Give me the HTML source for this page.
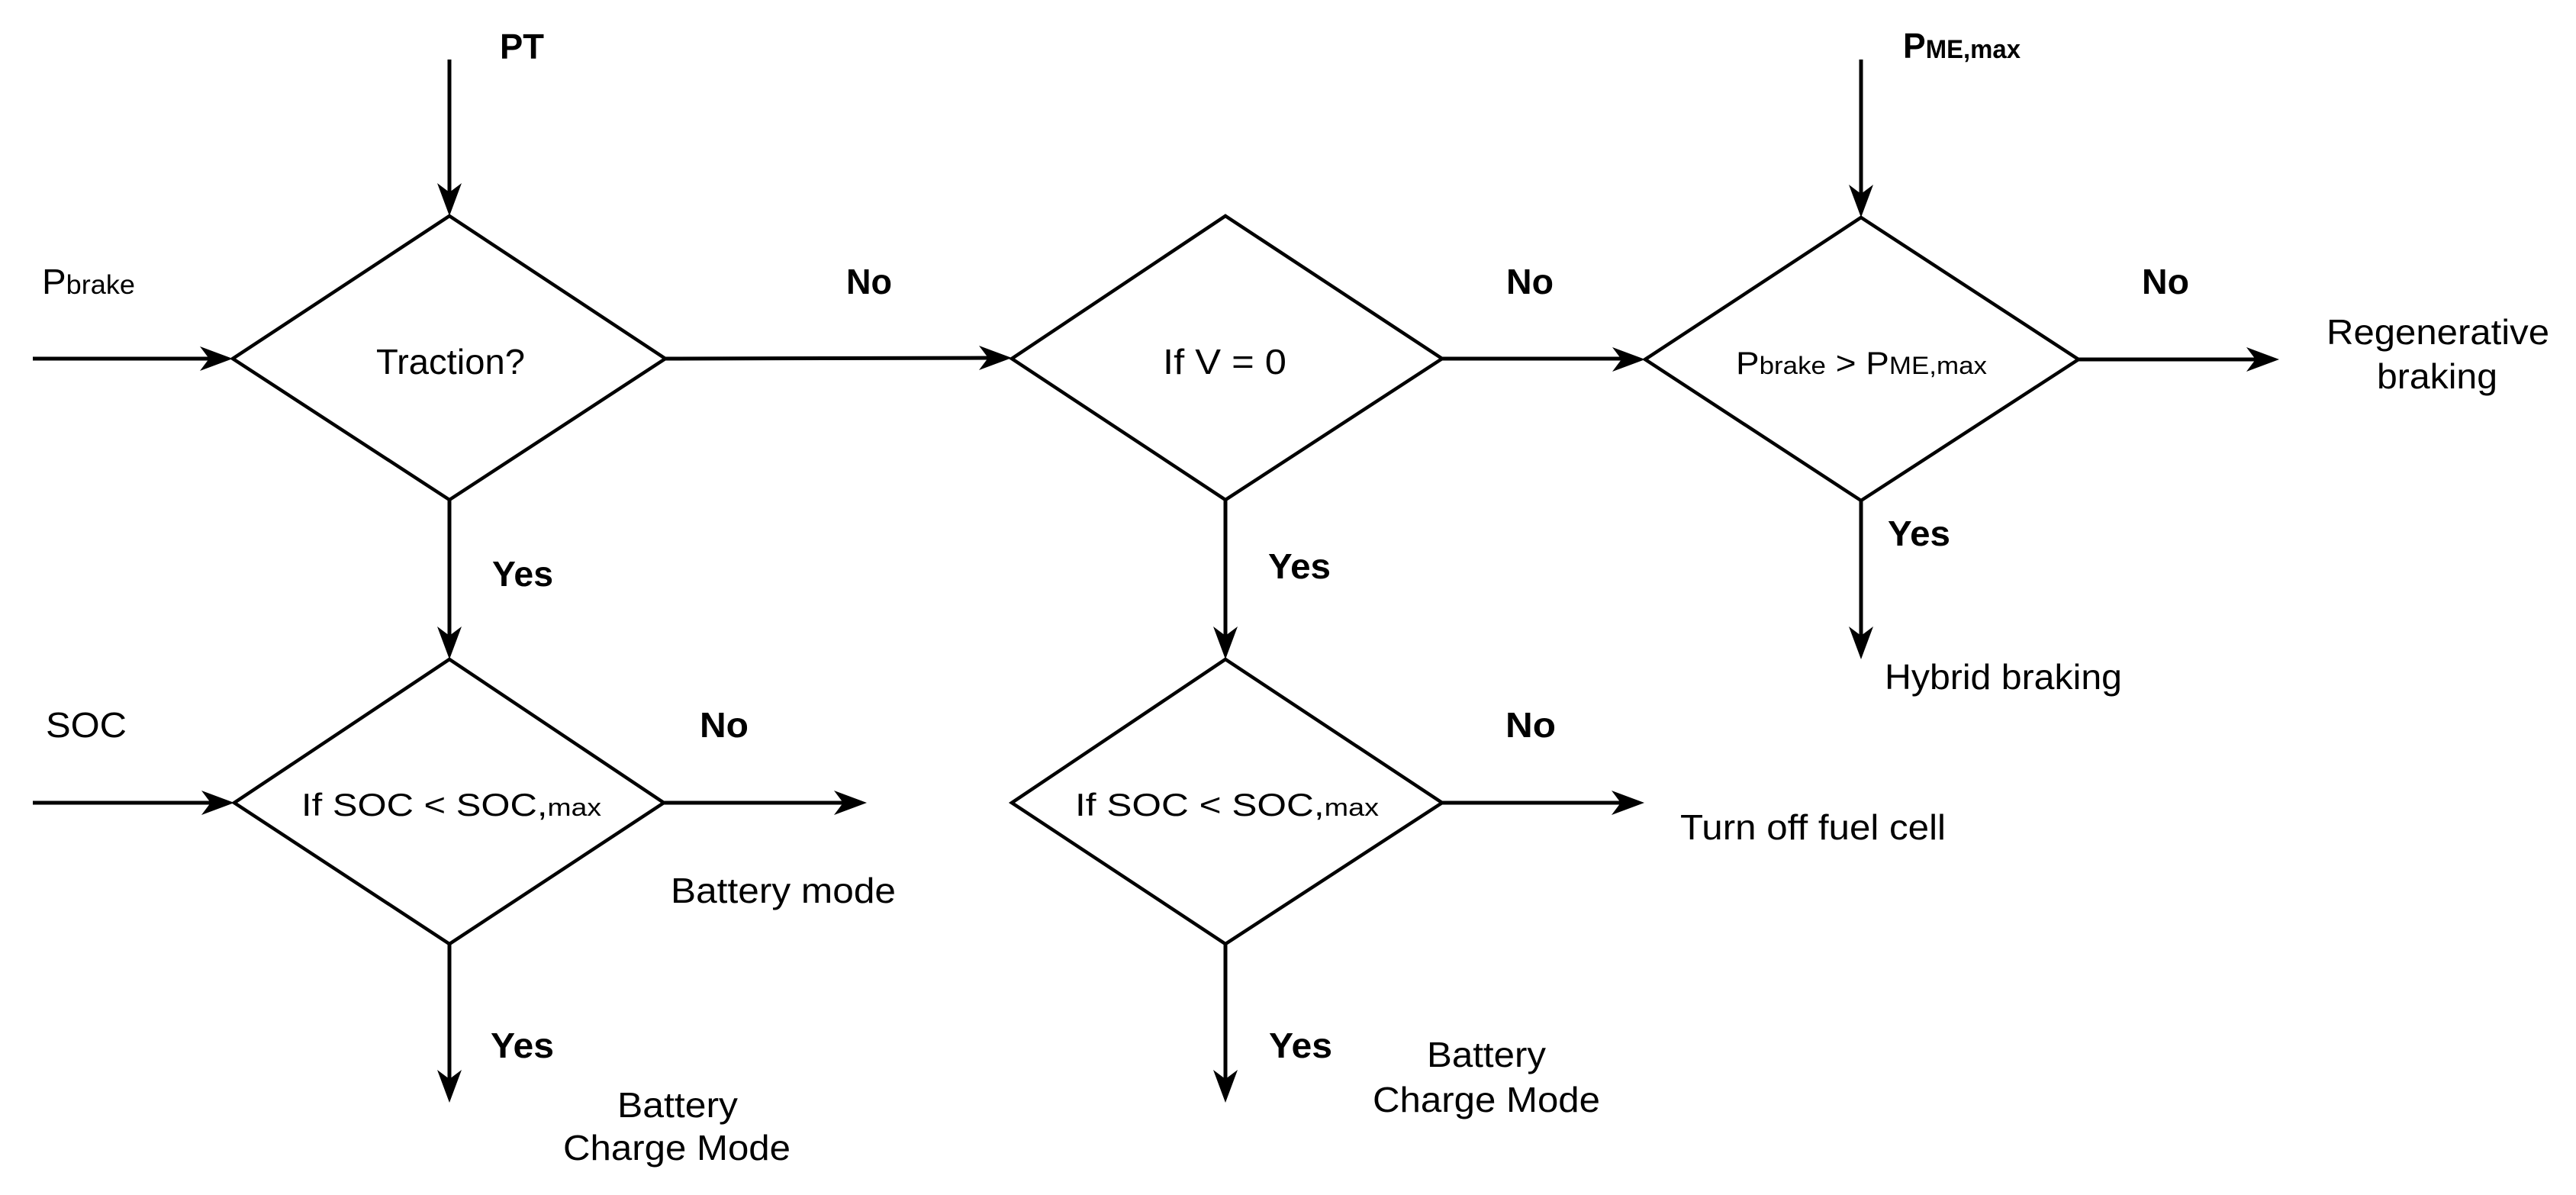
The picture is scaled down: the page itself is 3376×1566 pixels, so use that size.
<!DOCTYPE html>
<html><head><meta charset="utf-8"><style>html,body{margin:0;padding:0;background:#fff}svg{display:block}</style></head>
<body>
<svg width="3376" height="1566" viewBox="0 0 3376 1566" xmlns="http://www.w3.org/2000/svg" font-family="'Liberation Sans', Arial, sans-serif" fill="#000">
<g stroke="#000" stroke-width="5" fill="none">
<polygon points="589,283 872,470 589,655 305,470" stroke-width="4.5"/>
<polygon points="1606,283 1890,470 1606,655 1326,470" stroke-width="4.5"/>
<polygon points="2439,285 2724,471 2439,656 2156,471" stroke-width="4.5"/>
<polygon points="589,864 870,1052 589,1237 307,1052" stroke-width="4.5"/>
<polygon points="1606,864 1890,1052 1606,1237 1326,1052" stroke-width="4.5"/>
<line x1="589" y1="78" x2="589" y2="255"/>
<line x1="43" y1="470" x2="277" y2="470"/>
<line x1="872" y1="470" x2="1298" y2="469"/>
<line x1="589" y1="655" x2="589" y2="836"/>
<line x1="1890" y1="470" x2="2128" y2="470"/>
<line x1="1606" y1="655" x2="1606" y2="836"/>
<line x1="2439" y1="78" x2="2439" y2="257"/>
<line x1="2724" y1="471" x2="2959" y2="471"/>
<line x1="2439" y1="656" x2="2439" y2="836"/>
<line x1="43" y1="1052" x2="279" y2="1052"/>
<line x1="870" y1="1052" x2="1108" y2="1052"/>
<line x1="589" y1="1237" x2="589" y2="1417"/>
<line x1="1890" y1="1052" x2="2127" y2="1052"/>
<line x1="1606" y1="1237" x2="1606" y2="1417"/>
</g>
<g stroke="none" fill="#000">
<path d="M589,283 L573,240 L589,252 L605,240 Z"/>
<path d="M589,864 L573,821 L589,833 L605,821 Z"/>
<path d="M1606,864 L1590,821 L1606,833 L1622,821 Z"/>
<path d="M2439,285 L2423,242 L2439,254 L2455,242 Z"/>
<path d="M2439,864 L2423,821 L2439,833 L2455,821 Z"/>
<path d="M589,1445 L573,1402 L589,1414 L605,1402 Z"/>
<path d="M1606,1445 L1590,1402 L1606,1414 L1622,1402 Z"/>
<path d="M305,470 L262,454 L274,470 L262,486 Z"/>
<path d="M1326,469 L1283,453 L1295,469 L1283,485 Z"/>
<path d="M2156,471 L2113,455 L2125,471 L2113,487 Z"/>
<path d="M2987,471 L2944,455 L2956,471 L2944,487 Z"/>
<path d="M307,1052 L264,1036 L276,1052 L264,1068 Z"/>
<path d="M1136,1052 L1093,1036 L1105,1052 L1093,1068 Z"/>
<path d="M2155,1052 L2112,1036 L2124,1052 L2112,1068 Z"/>
</g>
<g font-size="46">
<text x="655" y="77" font-weight="bold" textLength="58" lengthAdjust="spacingAndGlyphs">PT</text>
<text x="55" y="385" textLength="122" lengthAdjust="spacingAndGlyphs">P<tspan font-size="35">brake</tspan></text>
<text x="493" y="490" textLength="195" lengthAdjust="spacingAndGlyphs">Traction?</text>
<text x="1109" y="385" font-weight="bold" textLength="60" lengthAdjust="spacingAndGlyphs">No</text>
<text x="1974" y="385" font-weight="bold" textLength="62" lengthAdjust="spacingAndGlyphs">No</text>
<text x="2807" y="385" font-weight="bold" textLength="62" lengthAdjust="spacingAndGlyphs">No</text>
<text x="645" y="768" font-weight="bold" textLength="80" lengthAdjust="spacingAndGlyphs">Yes</text>
<text x="1662" y="758" font-weight="bold" textLength="82" lengthAdjust="spacingAndGlyphs">Yes</text>
<text x="2474" y="715" font-weight="bold" textLength="82" lengthAdjust="spacingAndGlyphs">Yes</text>
<text x="1524" y="490" textLength="162" lengthAdjust="spacingAndGlyphs">If V = 0</text>
<text x="2494" y="76" font-weight="bold" textLength="154" lengthAdjust="spacingAndGlyphs">P<tspan font-size="34">ME,max</tspan></text>
<text x="2275" y="490" font-size="42" textLength="329" lengthAdjust="spacingAndGlyphs">P<tspan font-size="32">brake</tspan> &gt; P<tspan font-size="32">ME,max</tspan></text>
<text x="3049" y="451" textLength="292" lengthAdjust="spacingAndGlyphs">Regenerative</text>
<text x="3115" y="509" textLength="158" lengthAdjust="spacingAndGlyphs">braking</text>
<text x="2470" y="903" textLength="311" lengthAdjust="spacingAndGlyphs">Hybrid braking</text>
<text x="60" y="966" textLength="106" lengthAdjust="spacingAndGlyphs">SOC</text>
<text x="917" y="966" font-weight="bold" textLength="64" lengthAdjust="spacingAndGlyphs">No</text>
<text x="1973" y="966" font-weight="bold" textLength="66" lengthAdjust="spacingAndGlyphs">No</text>
<text x="395" y="1069" font-size="42" textLength="393" lengthAdjust="spacingAndGlyphs">If SOC &lt; SOC,<tspan font-size="32">max</tspan></text>
<text x="1409" y="1069" font-size="42" textLength="398" lengthAdjust="spacingAndGlyphs">If SOC &lt; SOC,<tspan font-size="32">max</tspan></text>
<text x="2202" y="1100" textLength="348" lengthAdjust="spacingAndGlyphs">Turn off fuel cell</text>
<text x="879" y="1183" textLength="295" lengthAdjust="spacingAndGlyphs">Battery mode</text>
<text x="643" y="1386" font-weight="bold" textLength="83" lengthAdjust="spacingAndGlyphs">Yes</text>
<text x="1663" y="1386" font-weight="bold" textLength="83" lengthAdjust="spacingAndGlyphs">Yes</text>
<text x="809" y="1464" textLength="158" lengthAdjust="spacingAndGlyphs">Battery</text>
<text x="738" y="1520" textLength="298" lengthAdjust="spacingAndGlyphs">Charge Mode</text>
<text x="1870" y="1398" textLength="156" lengthAdjust="spacingAndGlyphs">Battery</text>
<text x="1799" y="1457" textLength="298" lengthAdjust="spacingAndGlyphs">Charge Mode</text>
</g>
</svg>
</body></html>
